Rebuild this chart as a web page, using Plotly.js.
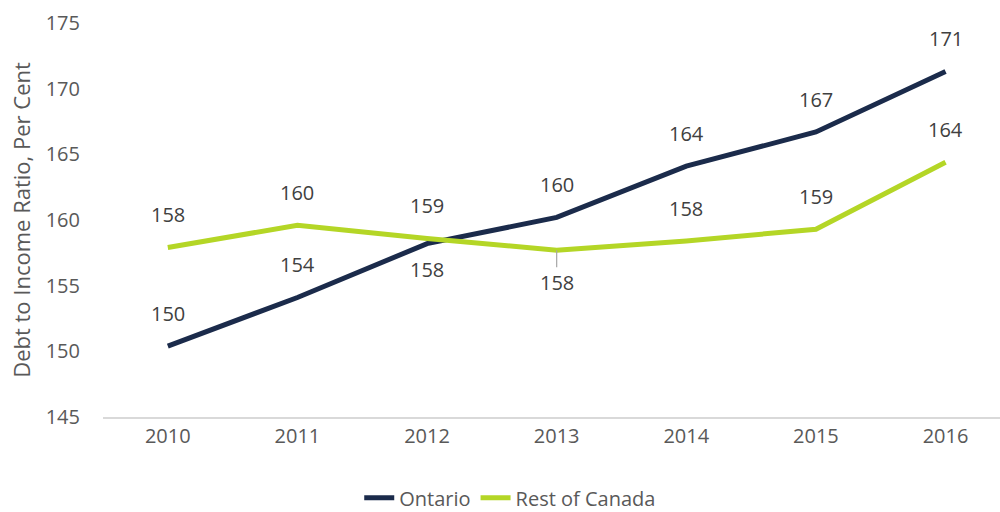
<!DOCTYPE html>
<html><head><meta charset="utf-8">
<script src="https://cdn.plot.ly/plotly-3.0.1.min.js"></script>
<style>html,body{margin:0;padding:0;background:#fff}#chart{width:1000px;height:512px}</style>
</head><body><div id="chart"></div>
<script>
var years = ['2010','2011','2012','2013','2014','2015','2016'];
var ontario = [150.4, 154.1, 158.2, 160.2, 164.1, 166.7, 171.3];
var restOfCanada = [157.9, 159.6, 158.6, 157.7, 158.4, 159.3, 164.4];
// label placement: 1 = above, -1 = below
var ontarioLabelSide = [1, 1, -1, 1, 1, 1, 1];
var rocLabelSide = [1, 1, 1, -1, 1, 1, 1];

var FONT = '"Open Sans", sans-serif';
var traces = [
  {x: years, y: ontario, name: 'Ontario', type: 'scatter', mode: 'lines',
   line: {color: '#1b2b4b', width: 5}},
  {x: years, y: restOfCanada, name: 'Rest of Canada', type: 'scatter', mode: 'lines',
   line: {color: '#b4d626', width: 5}}
];

var annotations = [];
function addLabels(vals, sides, leaderIdx) {
  for (var i = 0; i < vals.length; i++) {
    var v = vals[i];
    var a;
    if (i === leaderIdx) {
      a = {xref: 'x', yref: 'y', x: i, y: v, text: String(Math.round(v)), showarrow: true,
        ax: 0, ay: 32, arrowhead: 0, arrowwidth: 1.2, arrowcolor: '#a6a6a6', standoff: 0,
        font: {family: FONT, size: 20, color: '#404040'}};
    } else {
      a = {xref: 'x', yref: 'y', x: i, y: v, text: String(Math.round(v)), showarrow: false,
        font: {family: FONT, size: 20, color: '#404040'},
        yshift: sides[i] > 0 ? 33 : -26};
    }
    annotations.push(a);
  }
}
addLabels(ontario, ontarioLabelSide, -1);
addLabels(restOfCanada, rocLabelSide, 3);

var layout = {
  width: 1000, height: 512,
  margin: {l: 103, r: 0, t: 23, b: 95, autoexpand: false},
  paper_bgcolor: '#fff', plot_bgcolor: '#fff',
  showlegend: true,
  legend: {orientation: 'h', x: 0.454, xanchor: 'center', y: -0.205, yanchor: 'middle',
    itemwidth: 30, tracegroupgap: 0,
    font: {family: FONT, size: 20, color: '#595959'}},
  xaxis: {type: 'category', range: [-0.5, 6.42], showgrid: false, zeroline: false,
    showline: true, linecolor: '#d9d9d9', linewidth: 1.5, ticks: '', tickangle: 0,
    automargin: false,
    tickfont: {family: FONT, size: 20, color: '#595959'}},
  yaxis: {range: [145, 175], dtick: 5, showgrid: false, zeroline: false, showline: false,
    ticks: '', ticklabelstandoff: 22, automargin: false,
    tickfont: {family: FONT, size: 20, color: '#595959'},
    title: {text: 'Debt to Income Ratio, Per Cent', standoff: 8,
      font: {family: FONT, size: 22, color: '#595959'}}},
  annotations: annotations
};
Plotly.newPlot('chart', traces, layout, {staticPlot: true});
</script></body></html>
